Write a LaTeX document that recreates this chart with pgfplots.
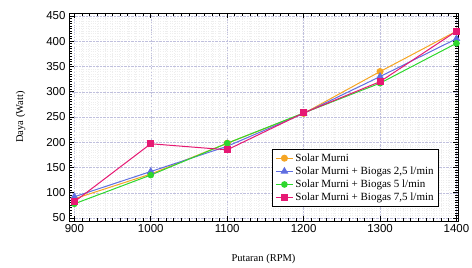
\documentclass[border=0pt]{standalone}
\usepackage{fontspec}
\setmainfont{Liberation Serif}
\newfontfamily\arialfont{Liberation Sans}
\usepackage{pgfplots}
\pgfplotsset{compat=1.18}
\definecolor{cOr}{RGB}{245,165,35}
\definecolor{cBl}{RGB}{95,110,225}
\definecolor{cGr}{RGB}{45,215,45}
\definecolor{cPk}{RGB}{230,25,115}
\begin{document}
\begin{tikzpicture}
\begin{axis}[
  scale only axis,
  width=389pt, height=208pt,
  xmin=893, xmax=1402, ymin=44, ymax=456,
  xtick={900,1000,...,1400},
  ytick={50,100,...,450},
  minor x tick num=9,
  minor y tick num=9,
  grid=both,
  major grid style={densely dotted, color=blue!30!gray!38},
  minor grid style={dotted, color=gray!13},
  tick style={black, thick},
  major tick length=5pt,
  minor tick length=3pt,
  axis line style={black, thick},
  /pgf/number format/assume math mode=true,
  /pgf/number format/1000 sep={},
  tick label style={font=\arialfont\fontsize{11.5}{13}\selectfont},
  xlabel={Putaran (RPM)},
  ylabel={Daya (Watt)},
  label style={font=\fontsize{10.5}{12}\selectfont},
  xlabel style={yshift=-15pt},
  ylabel style={yshift=14pt},
  legend style={at={(0.95,0.067)}, anchor=south east, draw=black, thick,
    font=\fontsize{11}{12.5}\selectfont, row sep=0pt, inner sep=2.5pt},
  legend cell align=left,
  every axis plot/.append style={line width=1pt},
]
\addplot[cOr, mark=*, mark size=3pt] coordinates {(900,88) (1000,137) (1100,198) (1200,257) (1300,340) (1400,420)};
\addlegendentry{Solar Murni}
\addplot[cBl, mark=triangle*, mark size=3.5pt] coordinates {(900,92) (1000,142) (1100,192) (1200,257) (1300,330) (1400,405)};
\addlegendentry{Solar Murni + Biogas 2,5 l/min}
\addplot[cGr, mark=*, mark size=2.8pt] coordinates {(900,78) (1000,135) (1100,198) (1200,258) (1300,317) (1400,396)};
\addlegendentry{Solar Murni + Biogas 5 l/min}
\addplot[cPk, mark=square*, mark size=3pt] coordinates {(900,82) (1000,197) (1100,185) (1200,258) (1300,320) (1400,420)};
\addlegendentry{Solar Murni + Biogas 7,5 l/min}
\end{axis}
\pgfresetboundingbox
\path[use as bounding box] ([shift={(-69pt,-46pt)}]current axis.south west) rectangle ([shift={(14pt,13pt)}]current axis.north east);
\end{tikzpicture}
\end{document}
